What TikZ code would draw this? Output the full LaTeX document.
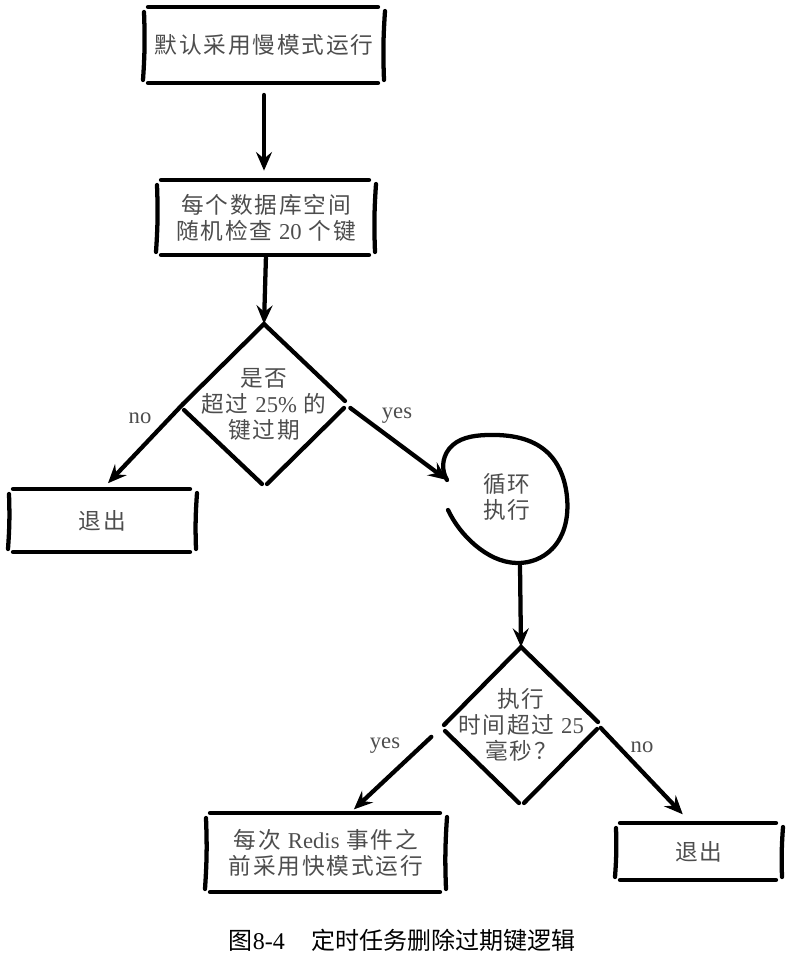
\documentclass[tikz,border=0pt]{standalone}
\usepackage{fontspec}
\setmainfont{Liberation Serif}
\newfontfamily\cjk{Noto Sans CJK SC}[LetterSpace=8]
\newfontfamily\capcjk{Noto Sans CJK SC}
\usetikzlibrary{arrows.meta,calc,hobby}
\definecolor{ink}{HTML}{4D4D4D}
\tikzset{
  roughline/.style={line width=3.2pt, line cap=round},
  flowarrow/.style={line width=3.2pt, line cap=round, -{Stealth[length=14pt,width=12pt,inset=5pt]}},
  txt/.style={font=\cjk\fontsize{17}{19.5}\selectfont, text=ink, align=center, inner sep=0pt, outer sep=0pt},
  lbl/.style={font=\fontsize{17}{20}\selectfont, text=ink, anchor=base},
}
% hand drawn frame round a box node
\newcommand{\roughbox}[1]{%
  \draw[roughline] ($(#1.north west)+(5,0)$) -- ($(#1.north east)+(-7,0)$);
  \draw[roughline] ($(#1.south west)+(5,0)$) -- ($(#1.south east)+(-7,0)$);
  \draw[roughline] ($(#1.north west)+(1,5)$) to[bend right=3] ($(#1.south west)+(0,-3)$);
  \draw[roughline] ($(#1.north east)+(0,4)$) to[bend left=3] ($(#1.south east)+(-1,-3)$);
}
% hand drawn diamond round a text node: name, half width, half height
\newcommand{\roughdiamond}[3]{%
  \coordinate (#1-n) at ($(#1)+(0,-#3)$);
  \coordinate (#1-s) at ($(#1)+(0,#3)$);
  \coordinate (#1-w) at ($(#1)+(-#2,0)$);
  \coordinate (#1-e) at ($(#1)+(#2,0)$);
  \draw[roughline] (#1-n) -- (#1-w);
  \draw[roughline] ($(#1-w)+(1,6)$) -- ($(#1-s)+(-2,0)$);
  \draw[roughline] (#1-n) -- ($(#1-e)+(0,-3)$);
  \draw[roughline] ($(#1-e)+(-1,4)$) -- ($(#1-s)+(3,0)$);
}
\begin{document}
\begin{tikzpicture}[x=0.75pt,y=0.75pt,yscale=-1,xscale=1]
\useasboundingbox (0,0) rectangle (791,956);

%Boxes
\node[txt, minimum width=181.5pt, minimum height=57pt] (slow) at (264,45) {默认采用慢模式运行};
\roughbox{slow}
\node[txt, minimum width=165pt, minimum height=56.25pt] (check) at (266,217.5) {每个数据库空间\\随机检查 {\rmfamily 20} 个键};
\roughbox{check}
\node[txt, minimum width=141.75pt, minimum height=47.25pt] (exitA) at (102.5,520.5) {退出};
\roughbox{exitA}
\node[txt, minimum width=181.5pt, minimum height=59.25pt] (fast) at (326,852.5) {每次 {\rmfamily Redis} 事件之\\前采用快模式运行};
\roughbox{fast}
\node[txt, minimum width=126pt, minimum height=42.75pt] (exitB) at (699,851.5) {退出};
\roughbox{exitB}

%Diamonds
\node[txt] (ratio) at (264,404) {是否\\超过 {\rmfamily 25\%} 的\\键过期};
\roughdiamond{ratio}{81}{80}
\node[txt] (time) at (521,725) {执行\\时间超过 {\rmfamily 25}\\毫秒？};
\roughdiamond{time}{77}{78}

%Loop
\node[txt] (loop) at (507,497) {循环\\执行};
\begin{scope}[shift={(loop)}]
  \coordinate (loop-in) at (-60,-17);
  \coordinate (loop-out) at (13,69);
  \draw[roughline, use Hobby shortcut] (-60,-17) .. (-58,-48) .. (-20,-62) .. (40,-45) .. (60,0) .. (45,52) .. (10,66) .. (-32,48) .. (-59,13);
\end{scope}

%Arrows
\draw[flowarrow, shorten <=9pt, shorten >=7pt] (slow.south) -- (slow.south |- check.north);
\draw[flowarrow, shorten <=2pt] (check.south) -- (ratio-n);
\draw[flowarrow, shorten >=6pt] (ratio-w) -- (exitA.north);
\draw[flowarrow, shorten <=5pt] (ratio-e) -- (loop-in);
\draw[flowarrow] (loop-out) -- (time-n);
\draw[flowarrow, shorten <=13pt, shorten >=4pt] (time-w) -- ([xshift=18pt]fast.north);
\draw[flowarrow, shorten <=3pt, shorten >=9pt] (time-e) -- ([xshift=-6pt]exitB.north);

%Labels
\node[lbl] (noA) at (140,423) {no};
\node[lbl] (yesA) at (397,418) {yes};
\node[lbl] (yesB) at (385,748) {yes};
\node[lbl] (noB) at (642,752) {no};

\node[font=\capcjk\fontsize{18}{22}\selectfont] (caption) at (402,940) {图{\rmfamily 8-4}\hspace{1.1em}定时任务删除过期键逻辑};
\end{tikzpicture}
\end{document}
